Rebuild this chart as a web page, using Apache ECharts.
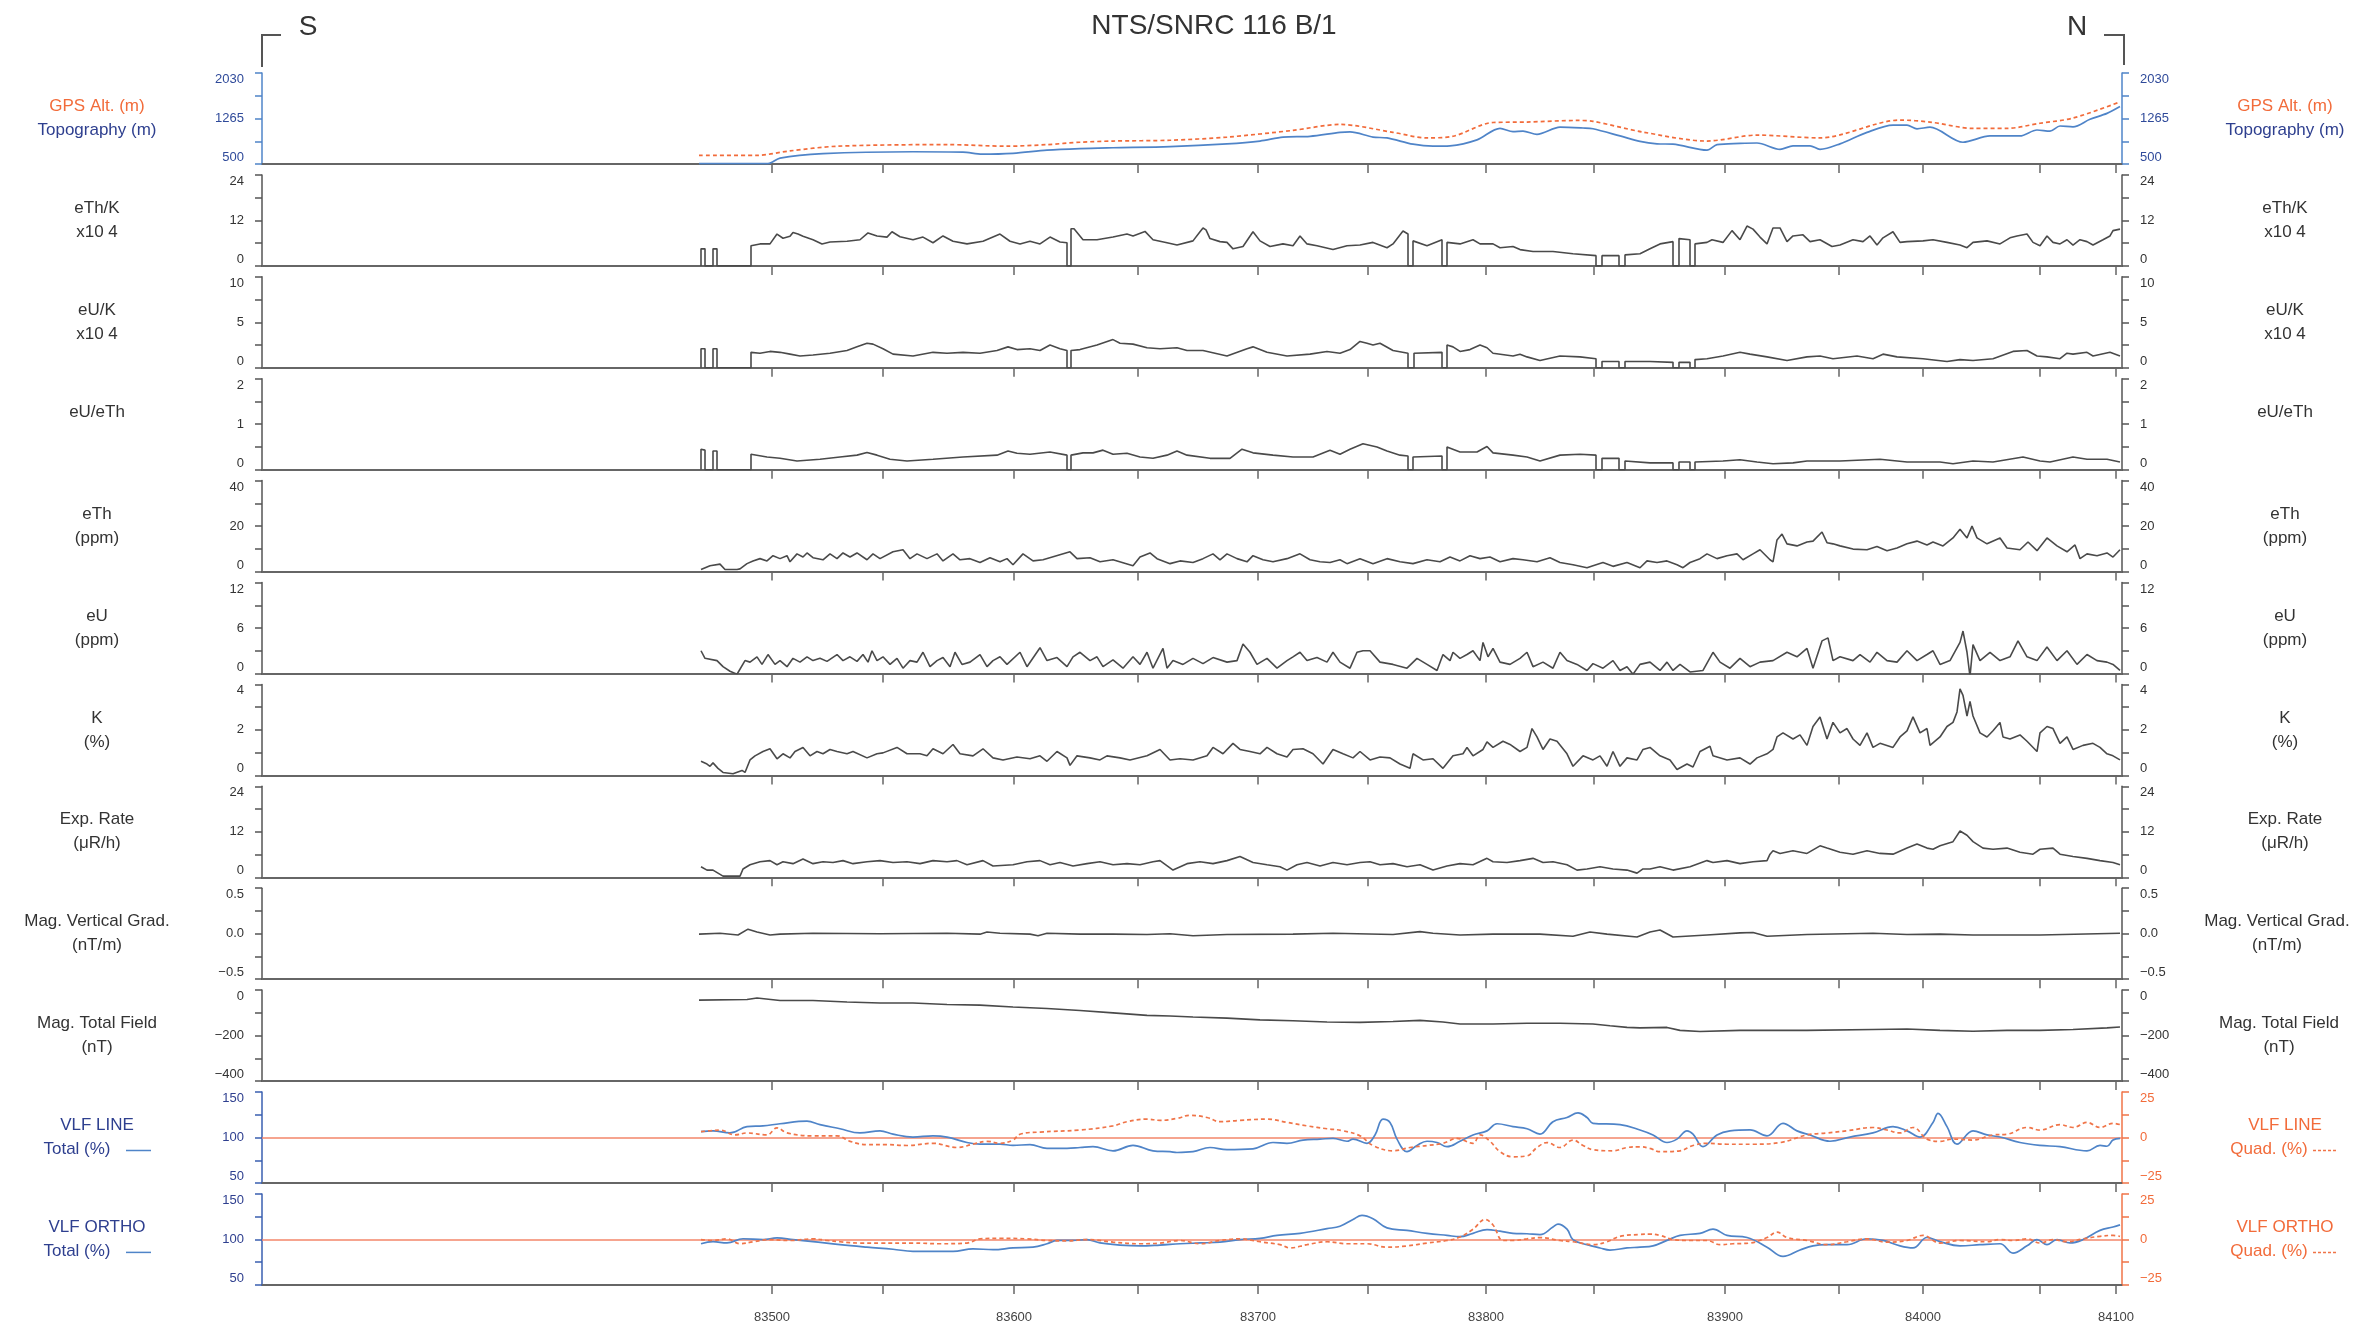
<!DOCTYPE html>
<html><head><meta charset="utf-8">
<script src="https://cdn.jsdelivr.net/npm/echarts@6/dist/echarts.min.js"></script>
<style>html,body{margin:0;padding:0;background:#fff}#c{width:2356px;height:1327px}</style>
</head><body><div id="c"></div>
<script>
// x coordinate: distance along flight line (arbitrary units); fiducial ticks placed at their distances
const fidTickDist = [510,621,752,876,996,1106,1224,1332,1463,1577,1661,1778,1854];
const fidTickLabels = ['83500','','83600','','83700','','83800','','83900','','84000','','84100'];

const topo = [[437,507],[506,507],[518,600],[561,673],[651,706],[701,700],[720,666],[751,680],[785,733],[818,759],[851,773],[908,793],[965,839],[998,886],[1021,952],[1048,966],[1078,1032],[1088,1039],[1111,952],[1125,939],[1151,833],[1171,799],[1188,806],[1215,906],[1238,1099],[1251,1045],[1261,1052],[1275,999],[1298,1119],[1321,1105],[1331,1092],[1358,972],[1378,880],[1395,839],[1411,833],[1445,733],[1455,826],[1478,846],[1495,853],[1518,746],[1531,806],[1548,806],[1558,746],[1578,839],[1605,1032],[1631,1152],[1645,1152],[1655,1092],[1668,1119],[1701,866],[1728,972],[1758,972],[1775,1072],[1788,1052],[1798,1139],[1811,1125],[1828,1252],[1845,1351],[1858,1465]];
const gpsAlt = [[437,646],[495,646],[528,720],[575,799],[685,826],[745,799],[785,826],[818,866],[851,886],[908,899],[965,952],[1031,1065],[1078,1165],[1131,1032],[1165,939],[1191,966],[1231,1198],[1265,1205],[1315,1232],[1331,1218],[1380,1040],[1445,886],[1495,986],[1558,939],[1638,1238],[1668,1205],[1711,1099],[1745,1099],[1778,1185],[1811,1272],[1858,1544]];
const ethK = [[439,0],[439,4.5],[443,4.5],[443,0],[451,0],[451,4.5],[455,4.5],[455,0],[489,0],[489,5.3],[498,5.8],[508,5.8],[515,8.4],[521,7.3],[528,7.8],[531,8.8],[536,8.4],[541,7.8],[551,6.9],[560,5.8],[568,6.3],[585,6.5],[598,6.9],[606,8.7],[615,7.9],[625,7.6],[630,9.0],[638,7.7],[651,6.9],[661,7.6],[671,6.1],[681,7.9],[691,6.5],[705,5.8],[721,6.5],[728,7.3],[738,8.4],[748,6.5],[758,5.8],[768,6.5],[778,5.8],[788,7.6],[798,6.3],[805,6.1],[805,0],[809,0],[809,9.8],[812,9.8],[821,6.9],[835,6.9],[851,7.6],[865,8.4],[871,7.9],[883,9.1],[891,6.9],[905,6.1],[915,5.5],[931,6.6],[938,9.0],[941,10.0],[944,9.5],[948,7.2],[958,6.4],[965,6.2],[971,4.5],[981,5.1],[991,9.0],[998,6.6],[1008,5.1],[1021,5.8],[1031,5.3],[1038,7.9],[1045,5.8],[1055,5.3],[1071,4.3],[1085,5.3],[1098,5.5],[1111,6.2],[1125,4.8],[1131,5.8],[1141,9.2],[1146,8.4],[1146,0],[1151,0],[1151,6.6],[1165,5.3],[1180,6.9],[1180,0],[1185,0],[1185,6.2],[1198,5.8],[1211,6.9],[1218,5.8],[1231,5.8],[1238,4.8],[1251,5.1],[1258,4.3],[1271,3.8],[1291,3.8],[1311,3.2],[1334,2.7],[1334,0],[1340,0],[1340,2.7],[1357,2.7],[1357,0],[1363,0],[1363,2.9],[1378,3.2],[1388,4.5],[1398,5.8],[1411,6.4],[1411,0],[1417,0],[1417,7.2],[1428,6.9],[1428,0],[1433,0],[1433,5.8],[1445,6.2],[1450,6.9],[1461,6.2],[1470,9.3],[1478,6.9],[1485,10.5],[1491,9.7],[1498,7.6],[1505,5.8],[1511,10.0],[1518,10.0],[1525,6.4],[1531,7.9],[1541,8.2],[1548,6.4],[1558,6.9],[1570,5.1],[1578,5.5],[1591,6.9],[1601,6.4],[1608,7.9],[1615,5.5],[1621,7.4],[1631,9.0],[1638,6.2],[1645,6.4],[1661,6.6],[1671,6.9],[1685,6.2],[1698,5.5],[1705,4.8],[1711,6.2],[1725,6.6],[1738,5.8],[1748,7.4],[1755,7.9],[1765,8.4],[1771,6.2],[1778,5.3],[1785,7.9],[1791,6.2],[1798,5.8],[1805,6.9],[1811,5.5],[1818,6.9],[1825,6.4],[1831,5.5],[1841,6.9],[1848,7.9],[1851,9.3],[1858,9.7]];
const euK = [[439,0],[439,2.1],[443,2.1],[443,0],[451,0],[451,2.1],[455,2.1],[455,0],[489,0],[489,1.7],[498,1.6],[508,1.8],[518,1.7],[528,1.5],[538,1.3],[551,1.4],[568,1.6],[585,1.9],[595,2.3],[605,2.7],[611,2.6],[621,2.1],[631,1.5],[651,1.3],[671,1.7],[685,1.6],[701,1.7],[718,1.6],[735,1.9],[746,2.3],[755,2.0],[768,2.1],[778,1.9],[788,2.5],[798,2.1],[805,1.9],[805,0],[809,0],[809,1.9],[818,2.0],[835,2.5],[843,2.8],[851,3.1],[858,2.7],[871,2.6],[885,2.2],[898,2.1],[915,2.2],[925,1.9],[941,1.9],[965,1.3],[985,2.1],[991,2.3],[1005,1.7],[1025,1.3],[1048,1.5],[1065,1.8],[1078,1.6],[1088,2.0],[1098,2.9],[1105,2.7],[1111,2.5],[1118,2.7],[1131,1.9],[1146,1.6],[1146,0],[1152,0],[1152,1.6],[1180,1.7],[1180,0],[1185,0],[1185,2.5],[1191,2.3],[1198,1.8],[1208,2.0],[1218,2.5],[1225,2.2],[1231,1.6],[1251,1.3],[1258,1.5],[1265,1.2],[1278,0.8],[1298,1.3],[1318,1.2],[1334,1.0],[1334,0],[1340,0],[1340,0.7],[1357,0.7],[1357,0],[1363,0],[1363,0.7],[1388,0.7],[1411,0.6],[1411,0],[1417,0],[1417,0.6],[1428,0.6],[1428,0],[1433,0],[1433,0.9],[1445,1.0],[1461,1.3],[1478,1.7],[1488,1.5],[1505,1.2],[1525,0.8],[1545,1.2],[1558,1.3],[1571,1.0],[1595,1.3],[1611,1.0],[1621,1.5],[1635,1.2],[1661,1.0],[1685,0.7],[1698,0.9],[1711,0.8],[1731,1.0],[1751,1.8],[1765,1.9],[1775,1.3],[1785,1.2],[1798,1.0],[1805,1.6],[1811,1.5],[1825,1.7],[1831,1.3],[1848,1.7],[1858,1.3]];
const euEth = [[439,0],[439,0.45],[443,0.43],[443,0],[451,0],[451,0.41],[455,0.41],[455,0],[489,0],[489,0.34],[505,0.28],[518,0.25],[535,0.19],[558,0.23],[578,0.28],[595,0.32],[605,0.38],[615,0.32],[628,0.23],[645,0.19],[671,0.23],[701,0.28],[735,0.32],[746,0.41],[755,0.36],[768,0.34],[788,0.39],[805,0.32],[805,0],[809,0],[809,0.32],[821,0.37],[831,0.37],[841,0.43],[851,0.34],[865,0.36],[878,0.28],[891,0.25],[905,0.32],[915,0.41],[925,0.32],[948,0.25],[968,0.25],[980,0.45],[991,0.37],[1011,0.32],[1031,0.28],[1051,0.28],[1068,0.43],[1078,0.34],[1088,0.45],[1101,0.57],[1115,0.50],[1125,0.41],[1138,0.32],[1146,0.30],[1146,0],[1151,0],[1151,0.28],[1180,0.30],[1180,0],[1185,0],[1185,0.50],[1198,0.39],[1215,0.39],[1225,0.51],[1231,0.37],[1251,0.32],[1265,0.28],[1278,0.19],[1298,0.32],[1318,0.34],[1334,0.32],[1334,0],[1340,0],[1340,0.25],[1357,0.25],[1357,0],[1363,0],[1363,0.19],[1388,0.15],[1411,0.15],[1411,0],[1417,0],[1417,0.17],[1428,0.17],[1428,0],[1433,0],[1433,0.17],[1461,0.19],[1478,0.22],[1495,0.17],[1511,0.13],[1531,0.15],[1545,0.19],[1578,0.19],[1618,0.23],[1645,0.17],[1678,0.17],[1691,0.13],[1711,0.19],[1731,0.17],[1761,0.28],[1778,0.19],[1788,0.17],[1811,0.28],[1825,0.23],[1845,0.23],[1858,0.17]];
const eTh = [[439,0.9],[448,2.6],[458,3.3],[460,4.0],[463,0.9],[475,0.9],[478,1.2],[485,3.5],[491,4.7],[498,5.7],[505,4.7],[511,7.0],[518,5.7],[525,7.0],[528,4.3],[535,7.8],[541,6.4],[545,8.2],[551,6.1],[561,5.2],[568,7.8],[575,5.7],[581,8.2],[588,6.4],[595,8.2],[605,5.2],[611,7.8],[618,5.7],[631,8.7],[641,9.6],[648,5.7],[655,7.8],[665,5.7],[675,7.8],[681,4.7],[691,7.8],[698,5.2],[708,5.7],[718,4.0],[728,6.1],[738,4.3],[745,5.7],[751,3.0],[761,7.8],[771,4.7],[781,5.2],[808,8.7],[815,5.7],[828,6.1],[838,4.3],[851,5.2],[871,2.6],[878,6.4],[888,8.2],[895,5.7],[908,3.5],[918,4.7],[931,4.0],[941,5.7],[951,7.8],[958,5.2],[965,7.8],[975,5.7],[985,4.3],[991,7.0],[1001,5.2],[1011,4.3],[1025,5.7],[1038,7.8],[1048,5.2],[1058,4.3],[1068,4.0],[1078,5.2],[1085,3.5],[1098,5.7],[1111,3.5],[1125,5.7],[1138,4.3],[1151,3.5],[1165,5.2],[1178,4.3],[1188,6.4],[1198,4.7],[1208,7.0],[1218,5.7],[1228,6.4],[1238,4.3],[1251,5.7],[1261,5.2],[1275,4.3],[1288,6.1],[1298,4.0],[1311,3.0],[1325,1.7],[1331,2.6],[1341,4.0],[1351,2.3],[1365,4.0],[1378,1.7],[1385,4.7],[1395,4.0],[1405,4.7],[1415,3.0],[1421,1.7],[1428,4.0],[1438,5.7],[1445,7.8],[1455,5.7],[1465,7.0],[1475,7.8],[1481,5.2],[1491,7.8],[1498,9.6],[1508,5.2],[1511,4.3],[1515,13.9],[1520,16.5],[1525,12.2],[1535,11.3],[1545,13.0],[1551,13.4],[1560,17.4],[1565,12.7],[1571,12.2],[1578,11.3],[1591,9.9],[1605,9.6],[1615,11.0],[1625,9.2],[1635,10.4],[1645,12.2],[1655,13.4],[1665,11.7],[1671,13.0],[1681,11.3],[1691,14.8],[1698,18.6],[1705,14.8],[1710,20.0],[1715,14.8],[1725,12.2],[1738,14.8],[1745,10.4],[1758,9.6],[1766,13.0],[1775,9.2],[1785,14.8],[1795,11.3],[1805,8.7],[1813,11.7],[1818,5.7],[1825,7.8],[1835,7.0],[1845,8.2],[1851,6.4],[1858,9.6]];
const eU = [[439,3.0],[443,2.0],[455,1.7],[461,0.9],[468,0.3],[475,-0.1],[483,1.7],[488,1.5],[495,2.2],[500,1.2],[506,2.5],[513,1.2],[518,1.7],[525,0.9],[531,2.0],[538,1.5],[545,2.2],[551,1.7],[558,2.0],[565,1.6],[575,2.5],[581,1.7],[588,2.2],[595,1.6],[601,2.5],[606,1.5],[610,3.0],[615,1.7],[621,2.2],[628,1.2],[635,2.0],[641,0.7],[648,1.7],[655,1.5],[661,2.8],[668,0.9],[675,1.7],[681,2.1],[688,0.9],[693,2.8],[700,1.2],[708,1.5],[718,2.5],[725,0.9],[731,1.7],[738,2.2],[745,1.2],[758,2.8],[765,0.9],[778,3.4],[785,1.7],[795,2.1],[805,0.9],[811,2.2],[818,2.8],[828,1.7],[835,2.2],[841,0.9],[851,1.8],[861,0.7],[871,2.2],[878,1.2],[885,2.8],[891,0.7],[901,3.3],[905,0.7],[911,1.7],[921,1.2],[931,2.0],[941,1.3],[951,2.1],[965,1.5],[975,1.7],[981,3.9],[988,2.8],[995,1.2],[1005,2.0],[1015,0.7],[1025,1.7],[1031,2.2],[1038,2.8],[1045,1.7],[1055,2.1],[1065,1.5],[1071,2.8],[1078,1.5],[1088,0.7],[1095,2.8],[1101,3.0],[1108,3.0],[1118,1.5],[1131,1.2],[1145,0.7],[1155,2.0],[1165,1.2],[1175,0.4],[1181,2.5],[1188,1.7],[1191,2.8],[1198,2.0],[1205,2.5],[1211,3.0],[1218,1.7],[1221,4.1],[1226,2.2],[1231,3.3],[1238,1.5],[1248,1.2],[1258,2.0],[1265,2.8],[1271,0.9],[1281,1.5],[1291,0.7],[1298,2.8],[1305,1.7],[1315,1.2],[1325,0.4],[1331,1.3],[1341,0.7],[1351,1.7],[1358,0.4],[1365,0.9],[1371,-0.1],[1378,1.2],[1388,1.5],[1398,0.4],[1405,1.5],[1411,0.4],[1418,1.2],[1428,0.2],[1441,0.4],[1451,2.8],[1458,1.5],[1468,0.7],[1478,2.0],[1488,0.9],[1498,1.5],[1511,1.7],[1525,2.8],[1535,2.2],[1545,3.3],[1551,0.7],[1560,4.3],[1566,4.7],[1571,1.7],[1578,2.2],[1591,1.7],[1598,2.5],[1608,1.5],[1615,2.8],[1625,1.7],[1635,1.5],[1645,3.0],[1655,1.7],[1665,2.5],[1671,3.0],[1678,1.2],[1688,1.7],[1698,4.1],[1701,5.6],[1705,2.8],[1708,-0.4],[1711,3.8],[1718,1.7],[1728,2.8],[1738,1.7],[1748,2.2],[1756,4.3],[1765,2.2],[1775,1.7],[1785,3.5],[1795,1.7],[1805,3.0],[1815,1.2],[1825,2.5],[1835,1.7],[1845,1.5],[1851,1.2],[1858,0.4]];
const potassium = [[439,0.62],[445,0.50],[448,0.40],[451,0.55],[456,0.31],[461,0.13],[471,0.07],[480,0.22],[483,0.13],[488,0.68],[493,0.86],[501,1.05],[508,1.17],[515,0.73],[521,0.95],[528,0.77],[533,1.05],[541,1.23],[548,0.86],[555,1.05],[561,0.95],[568,1.14],[575,1.05],[585,0.95],[591,1.05],[605,0.77],[615,0.95],[621,0.99],[635,1.23],[645,0.95],[658,0.95],[665,0.86],[671,1.17],[681,0.95],[691,1.36],[698,0.95],[711,0.86],[721,1.17],[731,0.77],[741,0.68],[755,0.81],[768,0.73],[778,0.86],[785,0.62],[795,1.05],[805,0.77],[808,0.44],[815,0.86],[828,0.77],[838,0.68],[845,0.86],[858,0.77],[868,0.68],[885,0.86],[898,1.14],[908,0.68],[918,0.73],[931,0.68],[945,0.86],[951,1.23],[961,0.95],[971,1.41],[978,1.14],[988,1.05],[998,0.95],[1005,1.23],[1015,0.95],[1025,0.81],[1031,1.14],[1041,1.17],[1051,0.95],[1061,0.50],[1071,1.14],[1081,0.95],[1091,0.77],[1098,1.05],[1108,0.68],[1118,0.81],[1128,0.77],[1138,0.50],[1148,0.31],[1151,0.95],[1161,0.68],[1171,0.73],[1181,0.31],[1191,0.86],[1201,0.95],[1205,1.23],[1211,0.86],[1221,1.14],[1225,1.47],[1231,1.23],[1241,1.50],[1248,1.36],[1258,1.05],[1265,1.23],[1270,2.06],[1275,1.69],[1281,1.14],[1288,1.60],[1295,1.50],[1305,0.95],[1311,0.40],[1321,0.86],[1331,0.68],[1338,0.86],[1345,0.40],[1351,1.05],[1358,0.40],[1365,0.77],[1375,0.68],[1381,1.14],[1388,1.23],[1398,0.86],[1408,0.68],[1415,0.26],[1425,0.50],[1431,0.37],[1438,1.05],[1448,1.28],[1451,0.86],[1465,0.68],[1478,0.77],[1488,0.50],[1495,0.77],[1505,0.95],[1511,1.14],[1515,1.69],[1521,1.87],[1531,1.60],[1538,1.78],[1545,1.32],[1551,2.15],[1558,2.57],[1565,1.60],[1571,2.33],[1578,1.87],[1585,2.06],[1591,1.60],[1598,1.32],[1605,1.87],[1611,1.23],[1618,1.41],[1631,1.23],[1638,1.69],[1645,1.96],[1651,2.57],[1658,1.87],[1665,2.06],[1668,1.32],[1678,1.69],[1685,2.15],[1691,2.33],[1695,2.79],[1698,3.80],[1701,3.52],[1705,2.61],[1708,3.25],[1711,2.61],[1718,1.87],[1725,1.69],[1731,1.96],[1738,2.33],[1741,1.69],[1748,1.60],[1758,1.78],[1765,1.50],[1775,1.05],[1778,1.87],[1785,2.15],[1791,2.06],[1798,1.41],[1805,1.69],[1811,1.14],[1821,1.32],[1831,1.41],[1838,1.23],[1845,0.95],[1851,0.86],[1858,0.68]];
const expRate = [[439,2.8],[445,1.9],[451,1.9],[456,1.1],[461,0.3],[478,0.3],[481,2.2],[488,3.3],[498,4.1],[508,4.4],[515,3.3],[521,4.1],[531,3.6],[541,4.8],[551,3.6],[561,4.1],[571,3.9],[581,4.4],[591,3.6],[605,4.1],[618,4.4],[631,3.9],[645,4.1],[658,3.6],[671,4.4],[685,4.1],[695,4.4],[705,3.3],[721,4.4],[731,3.0],[751,3.3],[765,4.1],[778,4.4],[788,3.3],[798,3.9],[811,3.0],[825,3.6],[838,4.1],[851,3.3],[865,3.6],[878,3.3],[891,4.1],[898,4.4],[911,1.9],[925,3.6],[938,4.1],[951,3.6],[965,4.4],[978,5.5],[991,3.9],[1005,3.3],[1018,2.8],[1025,1.9],[1035,3.3],[1045,3.9],[1058,3.0],[1071,3.9],[1085,3.3],[1098,3.9],[1108,4.1],[1118,3.3],[1131,3.6],[1145,2.8],[1158,3.3],[1171,1.9],[1185,3.0],[1198,3.6],[1211,3.3],[1225,5.0],[1231,4.1],[1245,3.9],[1258,4.4],[1271,5.0],[1281,3.9],[1291,4.1],[1305,3.3],[1315,1.9],[1325,2.2],[1338,2.8],[1351,2.2],[1365,1.9],[1375,1.1],[1381,2.2],[1388,2.2],[1398,2.8],[1411,1.9],[1428,2.8],[1445,4.4],[1451,3.9],[1465,4.4],[1478,3.6],[1491,4.1],[1505,4.4],[1508,6.1],[1511,7.0],[1518,6.3],[1531,7.0],[1545,6.3],[1558,8.3],[1565,7.7],[1578,6.6],[1591,6.1],[1605,7.0],[1618,6.3],[1631,6.1],[1645,7.7],[1655,8.8],[1665,7.7],[1671,7.4],[1678,8.3],[1691,9.4],[1698,12.2],[1705,11.1],[1711,9.4],[1721,7.7],[1731,7.4],[1745,7.7],[1758,6.6],[1771,6.1],[1778,7.4],[1791,7.7],[1798,6.1],[1811,5.5],[1825,5.0],[1838,4.4],[1851,3.9],[1858,3.3]];
const magVG = [[437,-0.005],[458,0.005],[476,-0.014],[486,0.05],[495,0.018],[508,-0.014],[518,-0.005],[551,0.005],[618,0],[685,0.005],[718,-0.005],[725,0.018],[738,0.005],[768,-0.005],[776,-0.023],[785,0.005],[818,-0.005],[851,-0.005],[885,-0.009],[908,0],[931,-0.023],[965,-0.009],[1031,-0.005],[1071,0.005],[1131,-0.009],[1158,0.023],[1171,0.005],[1198,-0.014],[1231,-0.005],[1278,-0.005],[1311,-0.028],[1328,0.018],[1345,-0.005],[1375,-0.037],[1388,0.018],[1398,0.041],[1411,-0.037],[1445,-0.014],[1478,0.009],[1491,0.014],[1505,-0.028],[1545,-0.009],[1611,0.005],[1645,-0.009],[1678,-0.005],[1711,-0.014],[1778,-0.014],[1858,0.005]];
const magTF = [[437,-44],[485,-41],[495,-35],[518,-46],[551,-46],[585,-52],[618,-57],[651,-57],[685,-63],[718,-66],[751,-74],[785,-81],[818,-90],[851,-100],[885,-111],[908,-114],[931,-118],[965,-123],[998,-131],[1031,-135],[1065,-140],[1098,-142],[1131,-138],[1158,-133],[1181,-140],[1198,-149],[1231,-149],[1265,-146],[1298,-146],[1331,-149],[1348,-157],[1365,-164],[1378,-166],[1405,-164],[1418,-177],[1438,-182],[1478,-177],[1545,-177],[1611,-173],[1645,-171],[1678,-177],[1711,-181],[1745,-177],[1778,-177],[1811,-173],[1845,-166],[1858,-162]];
const vlfLineTotal = [[439,106.4],[451,107.3],[468,105.0],[485,111.9],[501,112.8],[518,115.1],[545,117.9],[558,114.2],[578,109.6],[598,105.0],[618,107.3],[631,103.7],[651,100.5],[671,101.8],[685,100.5],[705,94.5],[718,92.7],[738,92.7],[751,91.3],[768,92.2],[785,88.1],[805,88.1],[818,89.0],[831,89.9],[851,85.3],[871,91.3],[891,85.3],[908,84.4],[915,83.5],[931,84.4],[948,89.0],[965,86.7],[991,87.6],[1011,94.5],[1025,93.6],[1041,97.2],[1058,98.2],[1071,99.1],[1085,95.9],[1091,98.2],[1105,93.6],[1113,102.8],[1121,120.2],[1128,116.5],[1135,98.2],[1145,84.4],[1155,91.3],[1165,95.9],[1175,94.5],[1185,89.9],[1198,95.9],[1211,102.8],[1225,107.3],[1235,115.1],[1251,111.9],[1265,109.6],[1278,103.7],[1291,117.4],[1305,122.0],[1316,127.1],[1325,122.0],[1331,115.6],[1358,114.2],[1378,108.3],[1391,102.8],[1405,94.5],[1415,98.2],[1425,107.3],[1431,103.7],[1441,89.9],[1455,102.8],[1468,107.3],[1488,108.3],[1505,101.8],[1521,115.6],[1535,107.3],[1548,102.8],[1568,95.9],[1588,100.5],[1611,105.0],[1631,111.9],[1645,107.3],[1658,100.5],[1671,116.5],[1676,126.6],[1685,111.9],[1695,92.7],[1711,107.3],[1725,102.8],[1738,100.5],[1758,94.5],[1778,91.3],[1798,89.9],[1825,85.3],[1838,91.3],[1845,90.4],[1851,97.2],[1858,99.1]];
const vlfLineQuad = [[439,3.2],[448,3.7],[458,4.1],[473,1.4],[485,2.5],[505,1.4],[515,5.3],[525,2.5],[551,0.9],[575,0.9],[588,-2.1],[605,-3.9],[625,-3.9],[645,-4.4],[671,-3.2],[695,-5.5],[711,-3.7],[725,-2.1],[738,-3.2],[751,-1.4],[758,1.8],[778,3.0],[818,4.1],[851,6.4],[865,8.7],[885,10.1],[898,9.4],[915,10.5],[928,12.2],[945,11.0],[958,8.7],[978,9.4],[1005,10.1],[1025,8.3],[1045,6.4],[1065,4.8],[1081,3.7],[1098,0.9],[1111,-4.4],[1131,-7.3],[1148,-5.5],[1165,-4.4],[1181,-3.2],[1195,-0.5],[1211,-3.2],[1218,1.4],[1228,-2.1],[1238,-7.8],[1251,-10.6],[1265,-10.1],[1275,-5.5],[1285,-2.8],[1298,-5.5],[1311,-1.4],[1321,-4.4],[1331,-6.7],[1351,-7.3],[1365,-5.5],[1378,-5.1],[1388,-6.0],[1398,-7.8],[1418,-7.3],[1431,-4.4],[1445,-3.2],[1465,-3.7],[1491,-3.7],[1518,-2.8],[1545,1.4],[1565,2.5],[1585,3.7],[1611,5.5],[1625,4.1],[1638,2.5],[1651,5.5],[1665,-0.9],[1678,-2.1],[1691,-0.9],[1711,-1.4],[1731,1.4],[1745,1.8],[1765,5.5],[1778,4.1],[1798,7.1],[1811,5.5],[1825,8.3],[1838,5.5],[1851,7.8],[1858,7.1]];
const vlfOrthoTotal = [[439,95.2],[451,97.5],[465,96.1],[481,100.7],[501,99.8],[515,101.6],[531,99.8],[551,97.5],[578,94.2],[605,91.5],[631,89.2],[651,86.9],[671,86.9],[691,86.9],[711,89.6],[731,88.7],[751,90.6],[771,91.5],[785,95.2],[795,98.9],[811,98.9],[825,99.8],[838,96.1],[858,93.8],[878,92.9],[898,93.8],[918,95.2],[938,96.1],[958,97.0],[978,99.8],[998,101.2],[1015,104.4],[1038,106.7],[1065,111.8],[1078,114.5],[1091,121.9],[1100,126.5],[1111,122.8],[1125,112.7],[1145,109.9],[1165,106.7],[1185,104.4],[1198,103.0],[1211,106.7],[1225,110.8],[1238,109.0],[1251,106.7],[1265,106.2],[1278,105.3],[1291,113.6],[1296,116.8],[1305,111.3],[1311,99.8],[1325,94.2],[1338,90.6],[1348,88.3],[1365,90.6],[1378,91.5],[1391,92.9],[1405,98.9],[1418,104.4],[1438,106.7],[1451,111.3],[1465,104.4],[1485,102.1],[1505,91.5],[1521,81.3],[1538,88.3],[1551,92.9],[1565,94.2],[1585,94.2],[1605,100.7],[1621,98.9],[1638,92.9],[1651,90.6],[1665,102.1],[1678,97.5],[1698,92.9],[1718,94.2],[1738,95.2],[1751,85.0],[1765,92.9],[1775,99.8],[1785,94.2],[1795,99.8],[1808,96.1],[1821,99.8],[1838,109.9],[1851,113.6],[1858,115.9]];
const vlfOrthoQuad = [[439,-0.1],[451,-0.6],[465,0.3],[478,-2.4],[491,-1.3],[508,-0.1],[528,-0.6],[551,0.3],[565,-0.6],[578,-1.3],[598,-2.0],[618,-2.0],[651,-2.0],[678,-2.4],[705,-2.0],[718,0.3],[738,0.6],[765,0.3],[785,-0.6],[805,-0.8],[825,-0.1],[851,-1.5],[878,-2.4],[898,-2.0],[918,-0.6],[938,-2.4],[958,-0.6],[978,0.3],[998,-1.3],[1018,-2.9],[1028,-4.7],[1045,-2.9],[1065,-1.3],[1085,-2.4],[1105,-2.4],[1125,-4.3],[1145,-3.6],[1165,-2.0],[1185,-0.6],[1198,1.3],[1211,5.6],[1223,10.9],[1231,7.9],[1241,-0.6],[1251,-0.6],[1265,0.3],[1278,1.0],[1298,-0.6],[1311,-1.3],[1331,-2.9],[1345,-1.3],[1358,1.7],[1378,2.7],[1388,2.9],[1398,2.2],[1411,-0.1],[1428,-0.6],[1445,-0.6],[1458,-2.9],[1471,-2.4],[1488,-2.0],[1505,1.0],[1515,4.0],[1525,1.0],[1545,-0.6],[1565,-2.9],[1585,-1.3],[1605,0.3],[1625,-1.5],[1645,-0.6],[1661,2.2],[1678,-2.0],[1698,-0.6],[1725,-1.3],[1738,-0.1],[1751,-0.6],[1765,0.3],[1778,-2.0],[1791,-0.1],[1805,-1.3],[1821,0.3],[1838,1.7],[1851,2.2],[1858,1.7]];

// ---------- layout & styling ----------
const FONT = '"Liberation Sans", Arial, sans-serif';
const GL = 262, GR = 2122, GW = GR - GL;
const TOP0 = 73, PITCH = 101.9, PH = 91;
const GRAY = '#4a4a4a', AXG = '#666', TXT = '#333';
const BLUE = '#4f84c8', DBLUE = '#2e3f8f', RED = '#f26b3a', ORANGE = '#f07448';
const minus = v => (v < 0 ? '\u2212' + Math.abs(v) : String(v));

const panels = [
  {min:500,max:2030,lab:[500,1265,2030],axC:BLUE,labC:'#2f4a9a',
   s:[{d:topo,c:BLUE,smooth:0.3},{d:gpsAlt,c:RED,dash:[4,3],smooth:0.3}],
   L:[['GPS Alt. (m)',RED],['Topography (m)',DBLUE]]},
  {min:0,max:24,lab:[0,12,24],s:[{d:ethK}],L:[['eTh/K'],['x10 4']]},
  {min:0,max:10,lab:[0,5,10],s:[{d:euK}],L:[['eU/K'],['x10 4']]},
  {min:0,max:2,lab:[0,1,2],s:[{d:euEth}],L:[['eU/eTh']]},
  {min:0,max:40,lab:[0,20,40],s:[{d:eTh}],L:[['eTh'],['(ppm)']]},
  {min:0,max:12,lab:[0,6,12],s:[{d:eU}],L:[['eU'],['(ppm)']]},
  {min:0,max:4,lab:[0,2,4],s:[{d:potassium}],L:[['K'],['(%)']]},
  {min:0,max:24,lab:[0,12,24],s:[{d:expRate}],L:[['Exp. Rate'],['(\u03bcR/h)']]},
  {min:-0.5,max:0.5,lab:[-0.5,0,0.5],fmt:v=>(v<0?'\u2212':'')+Math.abs(v).toFixed(1),s:[{d:magVG}],L:[['Mag. Vertical Grad.'],['(nT/m)']],rx:2277},
  {min:-400,max:0,lab:[-400,-200,0],s:[{d:magTF}],L:[['Mag. Total Field'],['(nT)']],rx:2279},
  {min:50,max:150,lab:[50,100,150],axC:'#3a5fb0',labC:DBLUE,vlf:true,
   s:[{d:vlfLineTotal,c:BLUE,smooth:0.4,ref:true},{d:vlfLineQuad,c:ORANGE,dash:[4,3],right:true,smooth:0.4}],
   L:[['VLF LINE',DBLUE],['Total (%)',DBLUE]], R:[['VLF LINE',RED],['Quad. (%)',RED]]},
  {min:50,max:150,lab:[50,100,150],axC:'#3a5fb0',labC:DBLUE,vlf:true,
   s:[{d:vlfOrthoTotal,c:BLUE,smooth:0.4,ref:true},{d:vlfOrthoQuad,c:ORANGE,dash:[4,3],right:true,smooth:0.4}],
   L:[['VLF ORTHO',DBLUE],['Total (%)',DBLUE]], R:[['VLF ORTHO',RED],['Quad. (%)',RED]]}
];

const labeledTicks = fidTickDist.filter((d,i)=>fidTickLabels[i] !== '');
const grids=[], xAxes=[], yAxes=[], series=[], graphics=[];

function yAxisDef(i, pos, min, max, lab, axC, labC, fmt){
  return {type:'value', gridIndex:i, position:pos, min, max, interval:(max-min)/4,
    axisLine:{show:true, onZero:false, lineStyle:{color:axC, width:1.5}},
    axisTick:{show:true, inside:false, length:7, lineStyle:{color:axC, width:1.5}},
    axisLabel:{show:true, customValues:lab, formatter:fmt, color:labC, fontSize:13, fontFamily:FONT, margin:18,
      verticalAlignMinLabel:'bottom', verticalAlignMaxLabel:'top'},
    splitLine:{show:false}};
}

function txt(x,y,t,color,size,align){
  graphics.push({type:'text', x, y, silent:true,
    style:{text:t, fill:color||TXT, font:(size||17)+'px '+FONT, textAlign:align||'center', textVerticalAlign:'middle', verticalAlign:'middle'}});
}
function line(x1,y1,x2,y2,color,w,dash){
  graphics.push({type:'line', silent:true, shape:{x1,y1,x2,y2}, style:{stroke:color, lineWidth:w||1.5, lineDash:dash||null}});
}

panels.forEach((p,i)=>{
  const top = TOP0 + PITCH*i;
  const last = i === panels.length-1;
  grids.push({left:GL, top, width:GW, height:PH, outerBoundsMode:'none', containLabel:false});
  xAxes.push({type:'value', gridIndex:i, min:0, max:1860,
    axisLine:{show:true, onZero:false, lineStyle:{color:AXG, width:2}},
    axisTick:{show:true, inside:false, customValues:fidTickDist, length:9, lineStyle:{color:AXG, width:1.5}},
    axisLabel:{show:last, customValues:labeledTicks, color:'#444', fontSize:13, fontFamily:FONT, margin:26,
      formatter:v=>{const k=fidTickDist.indexOf(v); return k>=0?fidTickLabels[k]:'';}},
    splitLine:{show:false}});
  const axC = p.axC || '#555', labC = p.labC || TXT, fmt = p.fmt || minus;
  yAxes.push(yAxisDef(i,'left',p.min,p.max,p.lab,axC,labC,fmt));
  if (p.vlf) yAxes.push(yAxisDef(i,'right',-25,25,[-25,0,25],ORANGE,RED,minus));
  else yAxes.push(yAxisDef(i,'right',p.min,p.max,p.lab,axC,labC,fmt));
  p.s.forEach(s=>{
    const ser = {type:'line', xAxisIndex:i, yAxisIndex: s.right ? 2*i+1 : 2*i, data:s.d,
      showSymbol:false, symbol:'none', smooth:s.smooth||false, animation:false, silent:true, z:3,
      lineStyle:{color:s.c||GRAY, width:s.c?1.7:1.6, type:s.dash||'solid'}};
    if (s.ref) ser.markLine = {silent:true, symbol:'none', animation:false, label:{show:false}, z:2,
      lineStyle:{color:'#f3866a', width:1.6, type:'solid'}, data:[{yAxis:100}]};
    series.push(ser);
  });
  // side labels
  const cy = top + PH/2;
  p.L.forEach((l,k)=>{
    const y = cy - 12 + 24*k;
    if (p.vlf && k===1){ txt(77,y,l[0],l[1]); line(126,y+1,151,y+1,BLUE,1.5); }
    else txt(97,y,l[0],l[1]||TXT);
  });
  const R = p.R || p.L;
  R.forEach((l,k)=>{
    const y = cy - 12 + 24*k;
    if (p.vlf && k===1){ txt(2269,y,l[0],l[1]); line(2313,y+1,2338,y+1,ORANGE,1.5,[3,2]); }
    else txt(p.rx||2285,y,l[0],l[1]||TXT);
  });
});

// title and S/N markers
txt(1214,26,'NTS/SNRC 116 B/1','#333',28);
txt(308,27,'S','#333',28);
txt(2077,27,'N','#333',28);
graphics.push({type:'polyline', silent:true, shape:{points:[[281,35],[262,35],[262,67]]}, style:{stroke:'#555', lineWidth:2, fill:null}});
graphics.push({type:'polyline', silent:true, shape:{points:[[2104,35],[2124,35],[2124,65]]}, style:{stroke:'#555', lineWidth:2, fill:null}});

const chart = echarts.init(document.getElementById('c'), null, {renderer:'canvas', width:2356, height:1327});
chart.setOption({
  backgroundColor:'#fff', animation:false,
  grid:grids, xAxis:xAxes, yAxis:yAxes, series:series, graphic:graphics
});
</script></body></html>
